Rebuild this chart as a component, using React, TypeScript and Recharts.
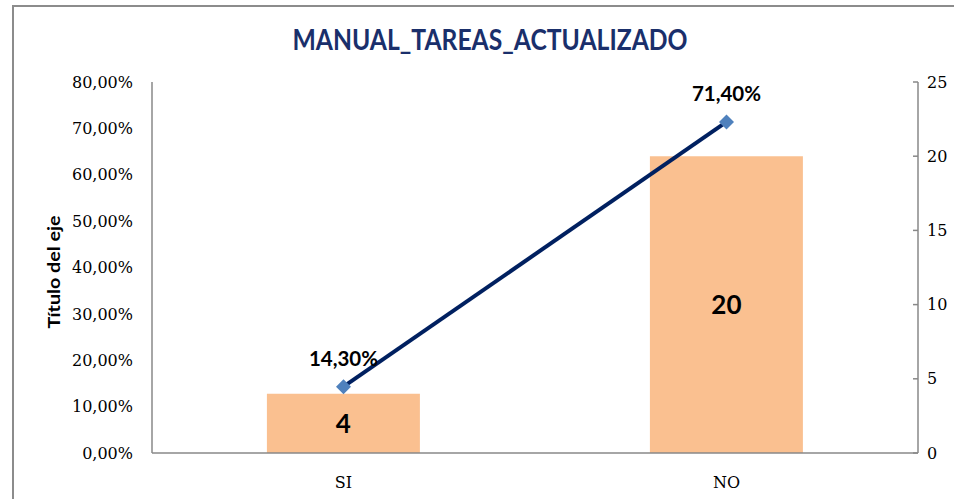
import React from "react";
import {
  ComposedChart,
  Bar,
  Line,
  XAxis,
  YAxis,
  LabelList,
} from "recharts";

const categories = ["SI", "NO"];
const counts = [4, 20];
const percents = [0.143, 0.714];
const percentTicks = [0, 0.1, 0.2, 0.3, 0.4, 0.5, 0.6, 0.7, 0.8];
const countTicks = [0, 5, 10, 15, 20, 25];
const title = "MANUAL_TAREAS_ACTUALIZADO";
const axisTitle = "Título del eje";

const data = categories.map((c, i) => ({
  name: c,
  count: counts[i],
  pct: percents[i],
}));

const fmtPct = (v: number) => (v * 100).toFixed(2).replace(".", ",") + "%";

const SERIF = "'DejaVu Serif', serif";
const SANS = "Lato, 'Noto Sans', sans-serif";
const AXIS_GRAY = "#888888";

const Diamond = (props: any) => {
  const { cx, cy } = props;
  if (cx == null || cy == null) return null;
  const r = 7.5;
  return (
    <polygon
      points={`${cx},${cy - r} ${cx + r},${cy} ${cx},${cy + r} ${cx - r},${cy}`}
      fill="#4F81BD"
    />
  );
};

const PctLabel = (props: any) => {
  const { x, y, value } = props;
  return (
    <text
      x={x}
      y={y - 29}
      textAnchor="middle"
      dominantBaseline="central"
      fontFamily={SANS}
      fontWeight="bold"
      fontSize={20.5}
      fill="#000"
    >
      {fmtPct(value)}
    </text>
  );
};

const RightTick = (props: any) => {
  const { x, y, payload } = props;
  return (
    <g>
      <line x1={x - 14} x2={x - 9} y1={y} y2={y} stroke={AXIS_GRAY} strokeWidth={1.5} />
      <text
        x={x}
        y={y}
        textAnchor="start"
        dominantBaseline="central"
        fontFamily={SERIF}
        fontSize={16}
        fill="#000"
      >
        {payload.value}
      </text>
    </g>
  );
};

export default function App() {
  return (
    <div
      style={{
        position: "fixed",
        left: 0,
        top: 0,
        width: 954,
        height: 499,
        overflow: "hidden",
        background: "#fff",
      }}
    >
      <div
        style={{
          position: "absolute",
          left: 12,
          top: 5,
          width: 960,
          height: 520,
          borderLeft: "2px solid #8c8c8c",
          borderTop: "2px solid #8c8c8c",
        }}
      />
      <div style={{ position: "absolute", left: 0, top: 0 }}>
        <ComposedChart
          width={954}
          height={499}
          data={data}
          margin={{ top: 82, right: 0, bottom: 16, left: 0 }}
          barCategoryGap="30%"
        >
          <text
            x={490}
            y={50}
            textAnchor="middle"
            fontFamily={SANS}
            fontWeight="bold"
            fontSize={28}
            fill="#1a2f6b"
            textLength={395}
            lengthAdjust="spacingAndGlyphs"
          >
            {title}
          </text>
          <text
            transform="translate(53,272) rotate(-90)"
            textAnchor="middle"
            dominantBaseline="central"
            fontFamily={SANS}
            fontWeight="bold"
            fontSize={17}
            fill="#000"
            textLength={113}
            lengthAdjust="spacingAndGlyphs"
          >
            {axisTitle}
          </text>
          <XAxis
            dataKey="name"
            height={30}
            tickLine={false}
            axisLine={{ stroke: AXIS_GRAY, strokeWidth: 1.5 }}
            tick={{ fontFamily: SERIF, fontSize: 16, fill: "#000" }}
            tickMargin={18}
          />
          <YAxis
            yAxisId="left"
            orientation="left"
            width={152}
            domain={[0, 0.8]}
            ticks={percentTicks}
            tickFormatter={fmtPct}
            tickLine={false}
            tickSize={0}
            tickMargin={19}
            axisLine={{ stroke: AXIS_GRAY, strokeWidth: 1.5 }}
            tick={{ fontFamily: SERIF, fontSize: 16, fill: "#000" }}
            interval={0}
          />
          <YAxis
            yAxisId="right"
            orientation="right"
            width={36}
            domain={[0, 25]}
            ticks={countTicks}
            tickLine={false}
            tickSize={0}
            tickMargin={9}
            axisLine={{ stroke: AXIS_GRAY, strokeWidth: 1.5 }}
            tick={<RightTick />}
            interval={0}
          />
          <Bar
            yAxisId="right"
            dataKey="count"
            fill="#FAC090"
            isAnimationActive={false}
          >
            <LabelList
              dataKey="count"
              position="center"
              fontFamily={SANS}
              fontWeight="bold"
              fontSize={26}
              fill="#000"
            />
          </Bar>
          <Line
            yAxisId="left"
            dataKey="pct"
            stroke="#002060"
            strokeWidth={4}
            dot={<Diamond />}
            activeDot={false}
            isAnimationActive={false}
          >
            <LabelList dataKey="pct" content={<PctLabel />} />
          </Line>
        </ComposedChart>
      </div>
    </div>
  );
}
